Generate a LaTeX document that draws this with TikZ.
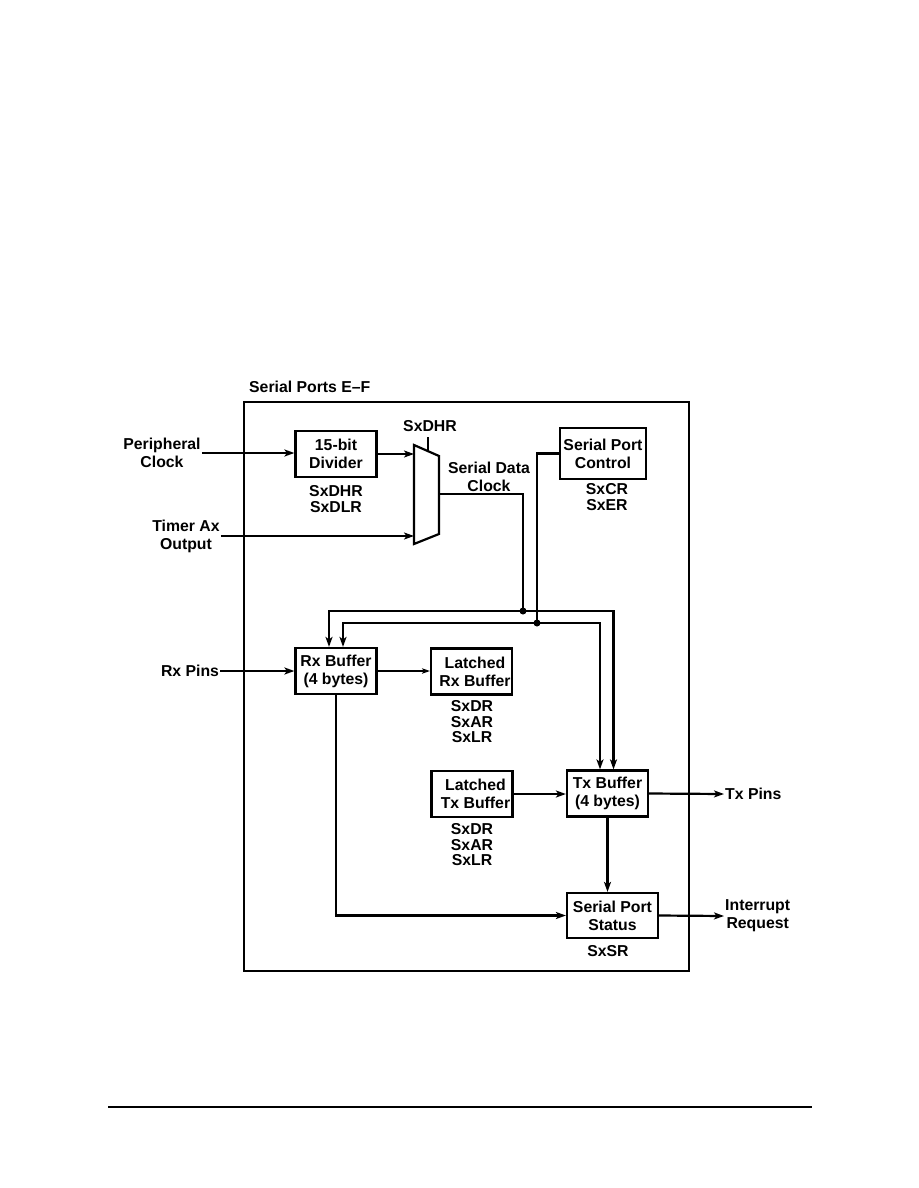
\documentclass[tikz,border=0pt]{standalone}
\usepackage{fontspec}
\setmainfont{Liberation Sans}
\usetikzlibrary{arrows.meta,positioning,calc}

\begin{document}
\begin{tikzpicture}[
    x=1pt, y=-1pt,
    every node/.style={font=\fontsize{15.8}{18}\selectfont\bfseries, align=center, inner sep=1pt},
    blk/.style={draw, line width=2.2pt, minimum width=81pt, minimum height=46pt, inner sep=0pt},
    regs/.style={font=\fontsize{15.8}{15.5}\selectfont\bfseries},
    wire/.style={line width=2.2pt},
    arr/.style={wire, -{Stealth[length=10pt,width=7pt,inset=2.5pt]}},
    thinarr/.style={line width=1.1pt, -{Stealth[length=8pt,width=5.5pt,inset=2pt]}},
    jdot/.style={circle, fill, inner sep=0pt, minimum size=7pt}
]
\useasboundingbox (0,0) rectangle (918,1188);
\draw[wire] (244,402) rectangle (689,971);
\node[anchor=west] (title) at (248,387) {Serial Ports E--F};

\draw[wire] (414,445) -- (439,456) -- (439,534) -- (414,544) -- cycle;
\coordinate (muxin) at (414,453);
\coordinate (muxout) at (439,494);
\draw[wire] (428,437) -- (428,451);
\node (selreg) at (430,426) {SxDHR};

\node[blk] (div) at (336,454) {15-bit\\Divider};
\node[regs] (divreg) at (336,499) {SxDHR\\SxDLR};
\node[blk, minimum width=86pt, minimum height=51pt] (ctrl) at (603,453.5) {Serial Port\\Control};
\node[regs] (ctrlreg) at (607,497) {SxCR\\SxER};
\node[blk] (rxbuf) at (336,671) {Rx Buffer\\(4 bytes)};
\node[blk] (latrx) at (471.5,671.5) {\hspace*{7pt}Latched\\\hspace*{7pt}Rx Buffer};
\node[regs] (latrxreg) at (472,722) {SxDR\\SxAR\\SxLR};
\node[blk] (lattx) at (472,794) {\hspace*{7pt}Latched\\\hspace*{7pt}Tx Buffer};
\node[regs] (lattxreg) at (472,845) {SxDR\\SxAR\\SxLR};
\node[blk] (txbuf) at (607.5,793.5) {Tx Buffer\\(4 bytes)};
\node[blk, minimum width=91pt, minimum height=45pt] (stat) at (612.5,915.5) {Serial Port\\Status};
\node (statreg) at (608,951) {SxSR};

\node (pclk) at (162,453) {Peripheral\\Clock};
\node (tmr) at (186,536) {Timer Ax\\Output};
\node (rxpin) at (190,671) {Rx Pins};
\node[anchor=west] (txpin) at (724,794) {Tx Pins};
\node[anchor=west] (irq) at (724,916) {Interrupt\\Request};
\node (sdclk) at (489,477) {Serial Data\\Clock};

\coordinate (j1) at (523,611);
\coordinate (j2) at (537,623);

\draw[arr] (pclk.east) -- (div.west |- pclk.east);
\draw[arr] (div.east) -- (div.east -| muxin);
\draw[arr] (tmr.east) -- (tmr.east -| muxin);
\draw[wire] (muxout) -| (j1);
\draw[wire] (ctrl.west) -| (j2);
\draw[arr] (j1) -| ([xshift=-7pt]rxbuf.north);
\draw[arr] (j1) -| ([xshift=6pt]txbuf.north);
\draw[arr] (j2) -| ([xshift=7pt]rxbuf.north);
\draw[arr] (j2) -| ([xshift=-7.5pt]txbuf.north);
\node[jdot] (j1dot) at (j1) {};
\node[jdot] (j2dot) at (j2) {};
\draw[arr] (rxpin.east) -- (rxbuf.west);
\draw[thinarr] (rxbuf.east) -- (latrx.west |- rxbuf.east);
\draw[arr] (lattx.east) -- (txbuf.west |- lattx.east);
\draw[arr] (txbuf.east) -- (txpin.west);
\draw[arr] (txbuf.south) -- (txbuf.south |- stat.north);
\draw[arr] (rxbuf.south) |- (stat.west);
\draw[arr] (stat.east) -- (irq.west);

\draw[line width=1.5pt] (108,1107) -- (812,1107);
\end{tikzpicture}
\end{document}
